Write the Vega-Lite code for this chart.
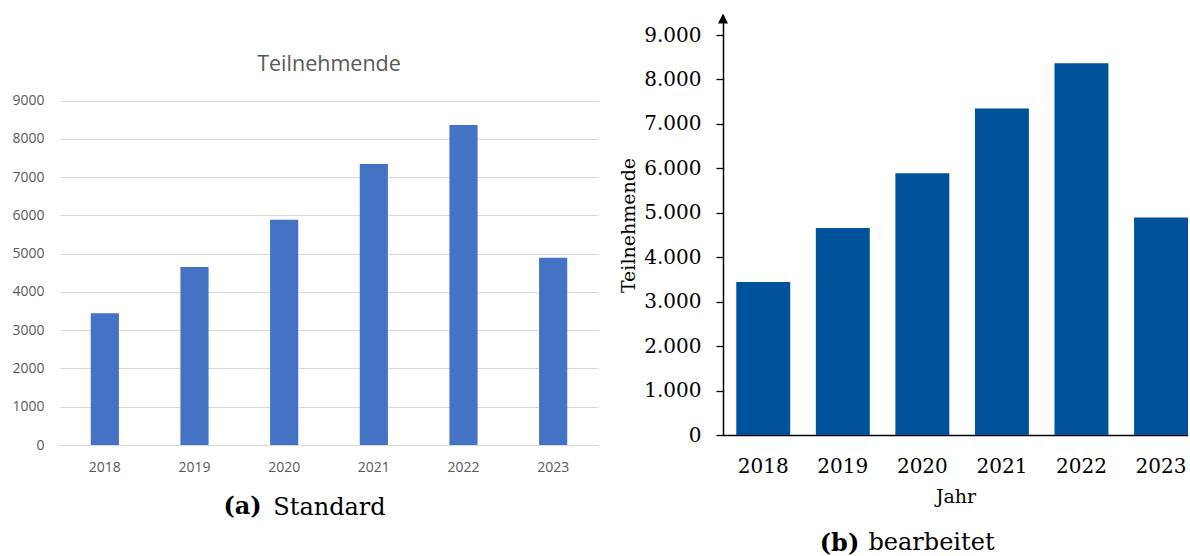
{
  "$schema": "https://vega.github.io/schema/vega-lite/v6.json",
  "background": "white",
  "padding": {"left": 11, "top": 13, "right": 0, "bottom": 0},
  "spacing": 21,
  "datasets": {
    "teilnehmende": [
      {"Jahr": "2018", "Teilnehmende": 3445},
      {"Jahr": "2019", "Teilnehmende": 4655},
      {"Jahr": "2020", "Teilnehmende": 5890},
      {"Jahr": "2021", "Teilnehmende": 7345},
      {"Jahr": "2022", "Teilnehmende": 8365},
      {"Jahr": "2023", "Teilnehmende": 4895}
    ],
    "pfeil": [{"pos": 0, "spitze": 9370}]
  },
  "hconcat": [
    {
      "width": 538,
      "height": 430,
      "data": {"name": "teilnehmende"},
      "mark": {"type": "bar", "color": "#4472C4"},
      "title": {
        "text": "Teilnehmende",
        "font": "Open Sans",
        "fontSize": 21.5,
        "fontWeight": "normal",
        "color": "#595959",
        "offset": -60,
        "anchor": "middle"
      },
      "encoding": {
        "x": {
          "field": "Jahr",
          "type": "nominal",
          "scale": {"paddingInner": 0.686, "paddingOuter": 0.343},
          "axis": {
            "title": "Standard",
            "titleFont": "DejaVu Serif",
            "titleFontSize": 24,
            "titleFontWeight": "normal",
            "titleColor": "black",
            "titlePadding": 21,
            "labelAngle": 0,
            "labelFont": "Open Sans",
            "labelFontSize": 14,
            "labelColor": "#595959",
            "labelPadding": 15,
            "ticks": false,
            "tickSize": 0,
            "domainColor": "#D9D9D9",
            "domainWidth": 1
          }
        },
        "y": {
          "field": "Teilnehmende",
          "type": "quantitative",
          "scale": {"domain": [0, 11240], "nice": false},
          "axis": {
            "values": [0, 1000, 2000, 3000, 4000, 5000, 6000, 7000, 8000, 9000],
            "format": "d",
            "grid": true,
            "gridColor": "#D9D9D9",
            "gridWidth": 1,
            "domain": false,
            "ticks": false,
            "tickSize": 0,
            "labelPadding": 16,
            "labelFont": "Open Sans",
            "labelFontSize": 14,
            "labelColor": "#595959",
            "title": "(a)",
            "titleAngle": 0,
            "titleX": 182,
            "titleY": 491.5,
            "titleAlign": "center",
            "titleBaseline": "middle",
            "titleFont": "DejaVu Serif",
            "titleFontSize": 24,
            "titleFontWeight": "bold",
            "titleColor": "black"
          }
        }
      }
    },
    {
      "width": 465,
      "height": 420,
      "title": {
        "text": "bearbeitet",
        "orient": "bottom",
        "frame": "group",
        "anchor": "middle",
        "dx": -24,
        "offset": -24,
        "font": "DejaVu Serif",
        "fontSize": 24,
        "fontWeight": "normal",
        "color": "black"
      },
      "layer": [
        {
          "data": {"name": "teilnehmende"},
          "mark": {"type": "bar", "color": "#00529B"},
          "encoding": {
            "x": {
              "field": "Jahr",
              "type": "nominal",
              "scale": {"paddingInner": 0.322, "paddingOuter": 0.0835, "align": 1},
              "axis": {
                "title": "Jahr",
                "titleFont": "DejaVu Serif",
                "titleFontSize": 19,
                "titleFontWeight": "normal",
                "titleColor": "black",
                "titlePadding": 11,
                "labelAngle": 0,
                "labelFont": "DejaVu Serif",
                "labelFontSize": 20,
                "labelColor": "black",
                "labelPadding": 21,
                "ticks": false,
                "domainColor": "black",
                "domainWidth": 1.5
              }
            },
            "y": {
              "field": "Teilnehmende",
              "type": "quantitative",
              "scale": {"domain": [0, 9450], "nice": false},
              "axis": {
                "values": [0, 1000, 2000, 3000, 4000, 5000, 6000, 7000, 8000, 9000],
                "labelExpr": "replace(format(datum.value, ','), ',', '.')",
                "grid": false,
                "domainColor": "black",
                "domainWidth": 1.5,
                "tickColor": "black",
                "tickSize": 7,
                "tickWidth": 1.3,
                "labelPadding": 15,
                "labelFont": "DejaVu Serif",
                "labelFontSize": 20,
                "labelColor": "black",
                "title": "Teilnehmende",
                "titleFont": "DejaVu Serif",
                "titleFontSize": 19,
                "titleFontWeight": "normal",
                "titleColor": "black",
                "titlePadding": 5
              }
            }
          }
        },
        {
          "data": {"name": "pfeil"},
          "mark": {"type": "point", "shape": "M0,-1L1,1L-1,1Z", "filled": true, "color": "black", "size": 100, "opacity": 1},
          "encoding": {
            "x": {
              "field": "pos",
              "type": "quantitative",
              "scale": {"domain": [0, 1], "nice": false, "zero": false},
              "axis": {
                "orient": "top",
                "title": "(b)",
                "labels": false,
                "ticks": false,
                "domain": false,
                "grid": false,
                "titleX": 116,
                "titleY": 528,
                "titleAlign": "center",
                "titleBaseline": "middle",
                "titleAngle": 0,
                "titleFont": "DejaVu Serif",
                "titleFontSize": 24,
                "titleFontWeight": "bold",
                "titleColor": "black"
              }
            },
            "y": {
              "field": "spitze",
              "type": "quantitative",
              "scale": {"domain": [0, 9450], "nice": false},
              "title": "Teilnehmende"
            }
          }
        }
      ],
      "resolve": {"scale": {"x": "independent"}}
    }
  ],
  "config": {
    "view": {"stroke": null}
  }
}
